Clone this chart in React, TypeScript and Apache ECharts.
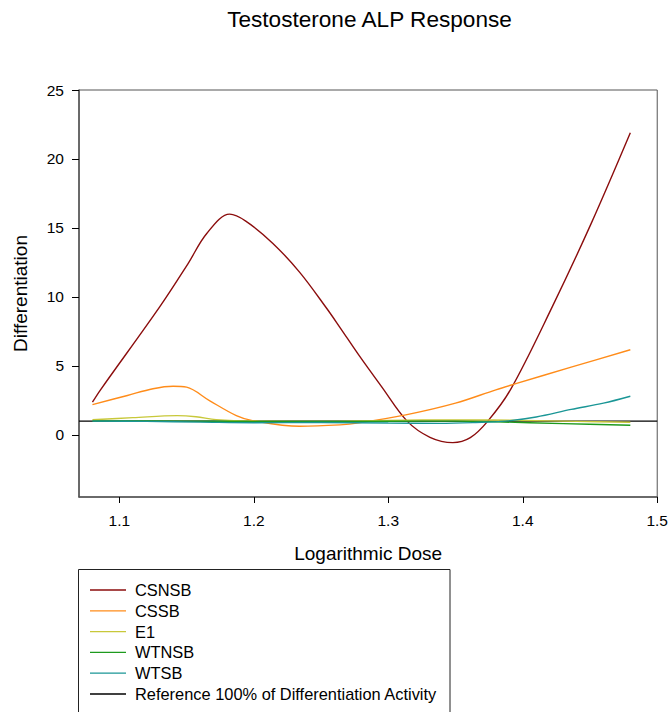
import React, { useEffect, useRef } from "react";
import * as echarts from "echarts";

const FONT = "'Liberation Sans', Arial, Helvetica, sans-serif";

// Dose axis ticks and differentiation axis ticks
const doseTicks = [1.1, 1.2, 1.3, 1.4, 1.5];
const diffTicks = [0, 5, 10, 15, 20, 25];

// CSNSB
const csnsbDose = [1.08, 1.086, 1.13, 1.151, 1.165, 1.182, 1.194, 1.214, 1.234, 1.254, 1.264, 1.278, 1.295, 1.314, 1.331, 1.348, 1.361, 1.374, 1.391, 1.422, 1.451, 1.48];
const csnsbValue = [2.37, 3.27, 9.28, 12.4, 14.6, 16.0, 15.5, 13.9, 11.8, 9.2, 7.8, 5.8, 3.5, 1.0, -0.17, -0.56, -0.2, 1.0, 3.3, 9.3, 15.35, 21.9];

// CSSB
const cssbDose = [1.08, 1.106, 1.125, 1.14, 1.15, 1.167, 1.187, 1.199, 1.234, 1.264, 1.278, 1.313, 1.35, 1.38, 1.393, 1.436, 1.48];
const cssbValue = [2.2, 2.86, 3.35, 3.53, 3.46, 2.49, 1.4, 1.04, 0.63, 0.73, 0.87, 1.45, 2.3, 3.27, 3.66, 4.91, 6.17];

// E1
const e1Dose = [1.08, 1.11, 1.143, 1.157, 1.172, 1.2, 1.25, 1.3, 1.35, 1.4, 1.44, 1.48];
const e1Value = [1.1, 1.25, 1.4, 1.32, 1.11, 1.0, 0.98, 1.05, 1.09, 1.05, 0.98, 0.92];

// WTNSB
const wtnsbDose = [1.08, 1.15, 1.2, 1.25, 1.3, 1.35, 1.38, 1.43, 1.48];
const wtnsbValue = [1.02, 1.0, 0.98, 0.98, 0.99, 1.0, 0.95, 0.82, 0.7];

// WTSB
const wtsbDose = [1.08, 1.12, 1.16, 1.2, 1.25, 1.3, 1.338, 1.365, 1.387, 1.41, 1.436, 1.46, 1.48];
const wtsbValue = [1.0, 0.98, 0.93, 0.88, 0.9, 0.86, 0.84, 0.9, 1.0, 1.3, 1.85, 2.3, 2.8];

// Reference 100% of differentiation activity
const refDose = [1.07, 1.5];
const refValue = [1, 1];

const seriesNames = ["CSNSB", "CSSB", "E1", "WTNSB", "WTSB", "Reference 100% of Differentiation Activity"];
const seriesColors = ["#8b0d0d", "#ff8c1a", "#c8c83a", "#1d9a1d", "#1a9696", "#000000"];

const pairs = (xs: number[], ys: number[]) => xs.map((x, i) => [x, ys[i]]);

export default function App() {
  const ref = useRef<HTMLDivElement>(null);

  useEffect(() => {
    if (!ref.current) return;
    const chart = echarts.init(ref.current, undefined, { renderer: "svg" });

    const datasets = [
      pairs(csnsbDose, csnsbValue),
      pairs(cssbDose, cssbValue),
      pairs(e1Dose, e1Value),
      pairs(wtnsbDose, wtnsbValue),
      pairs(wtsbDose, wtsbValue),
      pairs(refDose, refValue),
    ];

    const axisColor = "#555555";

    chart.setOption({
      animation: false,
      backgroundColor: "#ffffff",
      textStyle: { fontFamily: FONT },
      grid: {
        left: 79,
        right: 12,
        top: 90,
        bottom: 215,
        show: true,
        borderColor: axisColor,
        borderWidth: 1,
        backgroundColor: "transparent",
      },
      xAxis: {
        type: "value",
        min: 1.07,
        max: 1.5,
        name: "Logarithmic Dose",
        nameLocation: "middle",
        nameGap: 47,
        nameTextStyle: { fontSize: 19, color: "#000", fontFamily: FONT },
        axisLine: { show: true, onZero: false, lineStyle: { color: axisColor, width: 1.5 } },
        axisTick: {
          show: true,
          inside: false,
          length: 6,
          customValues: doseTicks,
          lineStyle: { color: "#000" },
        },
        axisLabel: {
          customValues: doseTicks,
          margin: 15,
          fontSize: 15.5,
          color: "#000",
          fontFamily: FONT,
          formatter: (v: number) => v.toFixed(1),
        },
        splitLine: { show: false },
      },
      yAxis: {
        type: "value",
        min: -4.5,
        max: 25,
        name: "Differentiation",
        nameLocation: "middle",
        nameGap: 49,
        nameTextStyle: { fontSize: 19, color: "#000", fontFamily: FONT },
        axisLine: { show: true, onZero: false, lineStyle: { color: axisColor, width: 1.5 } },
        axisTick: {
          show: true,
          inside: false,
          length: 7,
          customValues: diffTicks,
          lineStyle: { color: "#000" },
        },
        axisLabel: {
          customValues: diffTicks,
          margin: 15,
          fontSize: 15.5,
          color: "#000",
          fontFamily: FONT,
        },
        splitLine: { show: false },
      },
      legend: {
        orient: "vertical",
        left: 90,
        top: 582,
        padding: 0,
        icon: "rect",
        itemWidth: 36,
        itemHeight: 1.3,
        itemGap: 4.8,
        data: seriesNames,
        textStyle: { fontSize: 16.4, color: "#000", fontFamily: FONT, padding: [0, 0, 0, 4] },
      },
      graphic: [
        {
          type: "text",
          x: 369.5,
          y: 19,
          style: {
            text: "Testosterone ALP Response",
            font: `22.6px ${FONT}`,
            fill: "#000",
            textAlign: "center",
            textVerticalAlign: "middle",
          },
        },
        {
          type: "rect",
          shape: { x: 78.5, y: 569.5, width: 371.5, height: 200 },
          style: { fill: "none", stroke: "#222", lineWidth: 1 },
          silent: true,
        },
      ],
      series: datasets.map((data, i) => ({
        name: seriesNames[i],
        type: "line",
        data,
        smooth: i === 5 ? false : 0.35,
        symbol: "none",
        showSymbol: false,
        color: seriesColors[i],
        lineStyle: { color: seriesColors[i], width: i === 5 ? 1.2 : 1.4 },
        z: i === 5 ? 1 : 2 + i,
      })),
    });

    return () => chart.dispose();
  }, []);

  return (
    <div
      ref={ref}
      style={{ position: "fixed", left: 0, top: 0, width: 671, height: 712 }}
    />
  );
}
